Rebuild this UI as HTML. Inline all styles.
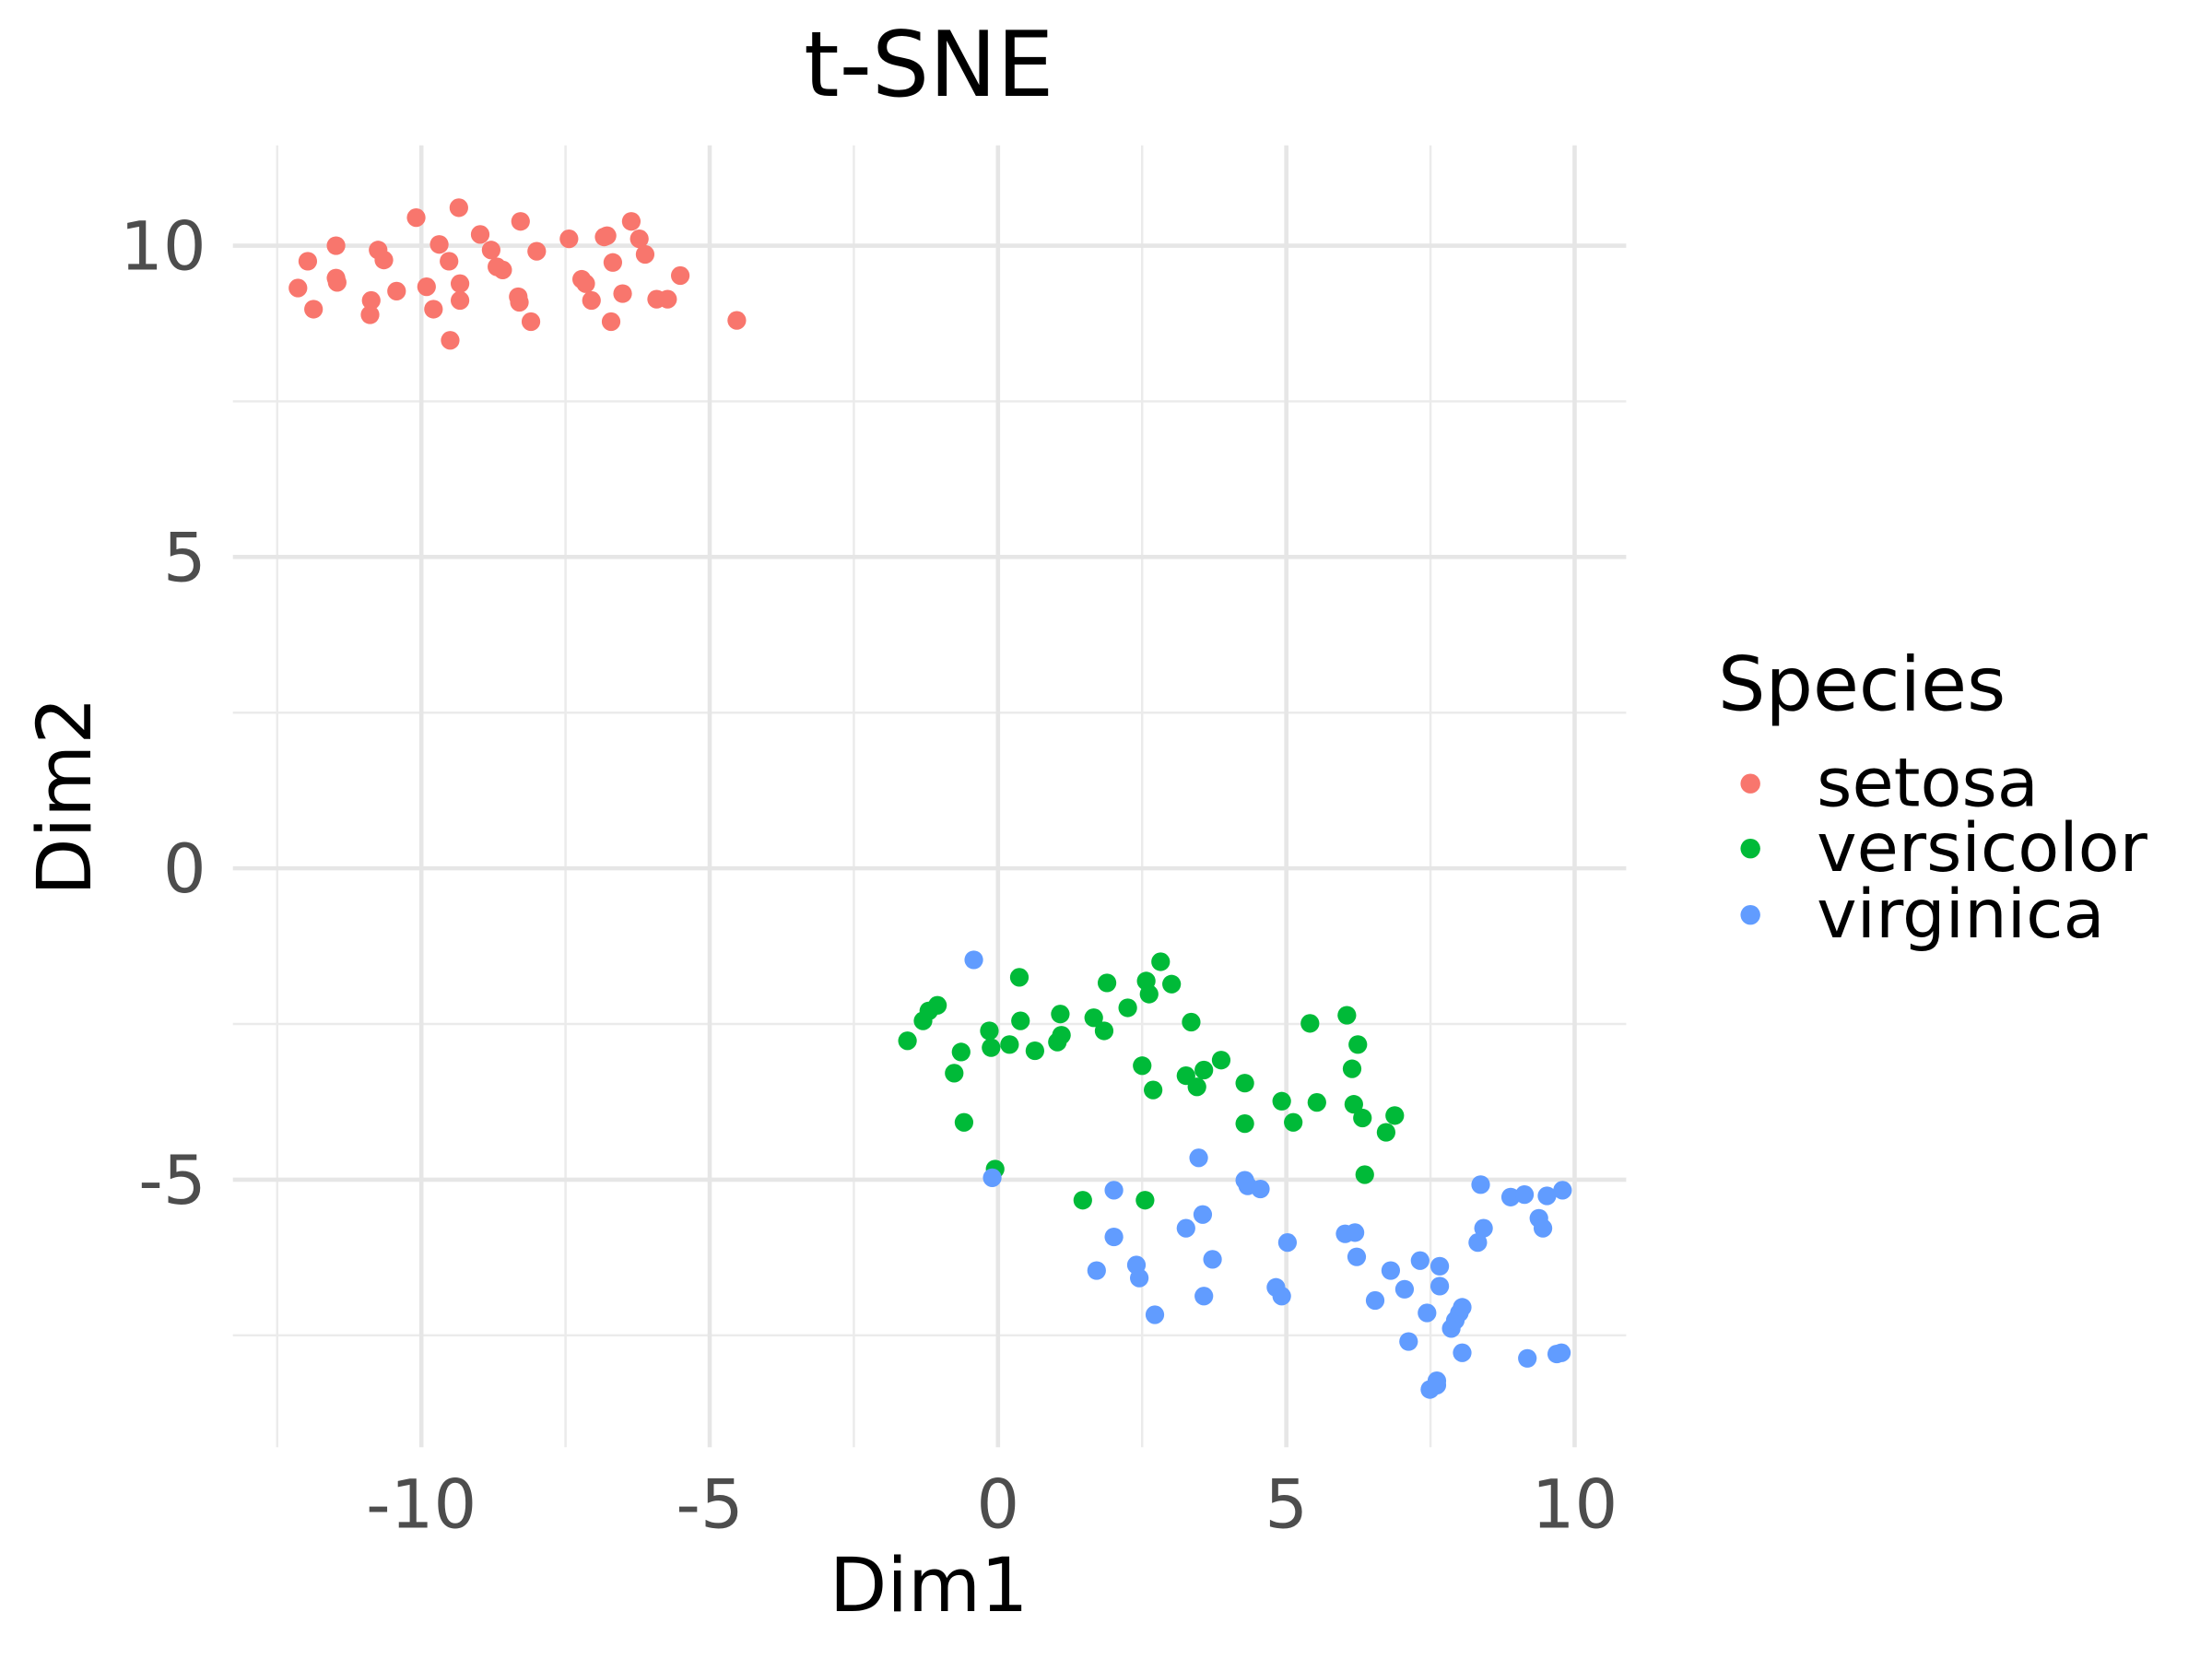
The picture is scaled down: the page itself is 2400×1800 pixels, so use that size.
<!DOCTYPE html>
<html><head><meta charset="utf-8"><style>
html,body{margin:0;padding:0;background:#fff;}
svg{display:block;}
text{font-family:"DejaVu Sans","Liberation Sans",sans-serif;}
</style></head><body>
<svg id="chart" width="2400" height="1800" viewBox="0 0 1567 1175" preserveAspectRatio="none" xmlns="http://www.w3.org/2000/svg">
<rect width="1567" height="1175" fill="#fff"/>
<g id="grid"></g>
<g id="points"></g>
<g id="axes"></g>
<text x="658" y="68" font-size="64" text-anchor="middle" fill="#000">t-SNE</text>
<text x="658" y="1141" font-size="53" text-anchor="middle" fill="#000">Dim1</text>
<text transform="translate(64,564) rotate(-90)" font-size="53" text-anchor="middle" fill="#000">Dim2</text>
<g>
<text x="1217" y="503" font-size="53" fill="#000">Species</text>
<circle cx="1240" cy="555" r="7" fill="#F8766D"/>
<text x="1287" y="571" font-size="48" fill="#000">setosa</text>
<circle cx="1240" cy="601" r="7" fill="#00BA38"/>
<text x="1287" y="617" font-size="48" fill="#000">versicolor</text>
<circle cx="1240" cy="648" r="7" fill="#619CFF"/>
<text x="1287" y="664" font-size="48" fill="#000">virginica</text>
</g>
</svg>
<script>
const xTicks = [-10, -5, 0, 5, 10];
const yTicks = [10, 5, 0, -5];
const xMinor = [-12.5, -7.5, -2.5, 2.5, 7.5];
const yMinor = [7.5, 2.5, -2.5, -7.5];
const setosaX = [-12.14,-11.97,-11.87,-11.48,-11.48,-11.46,-10.89,-10.87,-10.75,-10.65,-10.43,-10.09,-9.91,-9.79,-9.69,-9.52,-9.50,-9.35,-9.33,-9.33,-8.98,-8.79,-8.69,-8.59,-8.32,-8.30,-8.28,-8.10,-8.00,-7.44,-7.22,-7.15,-7.05,-6.83,-6.78,-6.71,-6.68,-6.51,-6.36,-6.22,-6.12,-5.92,-5.73,-5.51,-4.53];
const setosaY = [9.32,9.75,8.98,10.0,9.48,9.41,8.89,9.12,9.93,9.77,9.27,10.45,9.34,8.98,10.02,9.75,8.48,10.61,9.39,9.12,10.18,9.93,9.66,9.61,9.18,9.09,10.39,8.78,9.91,10.11,9.46,9.39,9.12,10.14,10.16,8.78,9.73,9.23,10.39,10.11,9.86,9.14,9.14,9.52,8.80];
const versicolorX = [-1.57,-1.30,-1.20,-1.05,-0.76,-0.64,-0.59,-0.15,-0.12,-0.05,0.20,0.37,0.39,0.64,1.03,1.08,1.10,1.47,1.66,1.84,1.89,2.25,2.50,2.57,2.62,2.69,2.82,3.01,3.26,3.35,3.45,3.57,3.87,4.28,4.28,4.92,5.12,5.41,5.53,6.05,6.14,6.17,6.24,6.32,6.36,6.73,6.88,2.55];
const versicolorY = [-2.77,-2.45,-2.29,-2.20,-3.29,-2.95,-4.08,-2.61,-2.88,-4.83,-2.83,-1.75,-2.45,-2.93,-2.79,-2.34,-2.68,-5.33,-2.40,-2.61,-1.84,-2.24,-3.17,-1.81,-2.02,-3.56,-1.50,-1.86,-3.33,-2.47,-3.51,-3.24,-3.08,-3.45,-4.10,-3.74,-4.08,-2.49,-3.76,-2.36,-3.22,-3.79,-2.83,-4.01,-4.92,-4.24,-3.97,-5.33];
const virginicaX = [-0.42,-0.10,1.71,2.01,2.01,2.40,2.45,2.72,3.26,3.48,3.55,3.57,3.72,4.28,4.33,4.55,4.82,4.92,5.02,6.02,6.19,6.22,6.54,6.81,7.05,7.12,7.32,7.44,7.49,7.61,7.66,7.66,7.86,7.93,8.00,8.05,8.05,8.32,8.37,8.42,8.89,9.13,9.18,9.38,9.45,9.52,9.69,9.77,9.79,7.61];
const virginicaY = [-1.47,-4.97,-6.46,-5.17,-5.92,-6.37,-6.58,-7.17,-5.78,-4.65,-5.56,-6.87,-6.28,-5.01,-5.10,-5.15,-6.73,-6.87,-6.01,-5.87,-5.85,-6.24,-6.94,-6.46,-6.76,-7.60,-6.30,-7.14,-8.37,-8.23,-6.39,-6.71,-7.39,-7.26,-7.14,-7.05,-7.78,-6.01,-5.08,-5.78,-5.28,-5.24,-7.87,-5.62,-5.78,-5.26,-7.80,-7.78,-5.17,-8.30];

const NS = "http://www.w3.org/2000/svg";
const X0 = 707, XS = 40.85, Y0 = 615, YS = 44.1;
const PL = 165, PR = 1152, PT = 103, PB = 1025;
function sx(v){ return X0 + v * XS; }
function sy(v){ return Y0 - v * YS; }
function mk(tag, attrs, parent){
  const e = document.createElementNS(NS, tag);
  for (const k in attrs) e.setAttribute(k, attrs[k]);
  parent.appendChild(e);
  return e;
}
const grid = document.getElementById('grid');
const axes = document.getElementById('axes');
const pts = document.getElementById('points');

xMinor.forEach(v => {
  const l = mk('line', {x1:sx(v), x2:sx(v), y1:PT, y2:PB, stroke:'#ebebeb', 'stroke-width':1.6}, grid);
  
  
});
yMinor.forEach(v => {
  const l = mk('line', {x1:PL, x2:PR, y1:sy(v), y2:sy(v), stroke:'#ebebeb', 'stroke-width':1.6}, grid);
  
  
});
xTicks.forEach(v => {
  const l = mk('line', {x1:sx(v), x2:sx(v), y1:PT, y2:PB, stroke:'#e6e6e6', 'stroke-width':3}, grid);
  
  
  const t = mk('text', {x:sx(v), y:1082, 'font-size':48, 'text-anchor':'middle', fill:'#4d4d4d'}, axes);
  t.textContent = String(v);
  
  
});
yTicks.forEach(v => {
  const l = mk('line', {x1:PL, x2:PR, y1:sy(v), y2:sy(v), stroke:'#e6e6e6', 'stroke-width':3}, grid);
  
  
  const t = mk('text', {x:146, y:sy(v)+17, 'font-size':48, 'text-anchor':'end', fill:'#4d4d4d'}, axes);
  t.textContent = String(v);
  
  
});
function drawSeries(xs, ys, color, name){
  xs.forEach((v, i) => {
    const c = mk('circle', {cx:sx(v), cy:sy(ys[i]), r:6.6, fill:color}, pts);
    
    
  });
}
drawSeries(setosaX, setosaY, '#F8766D', 'setosa');
drawSeries(versicolorX, versicolorY, '#00BA38', 'versicolor');
drawSeries(virginicaX, virginicaY, '#619CFF', 'virginica');
</script>
</body></html>
